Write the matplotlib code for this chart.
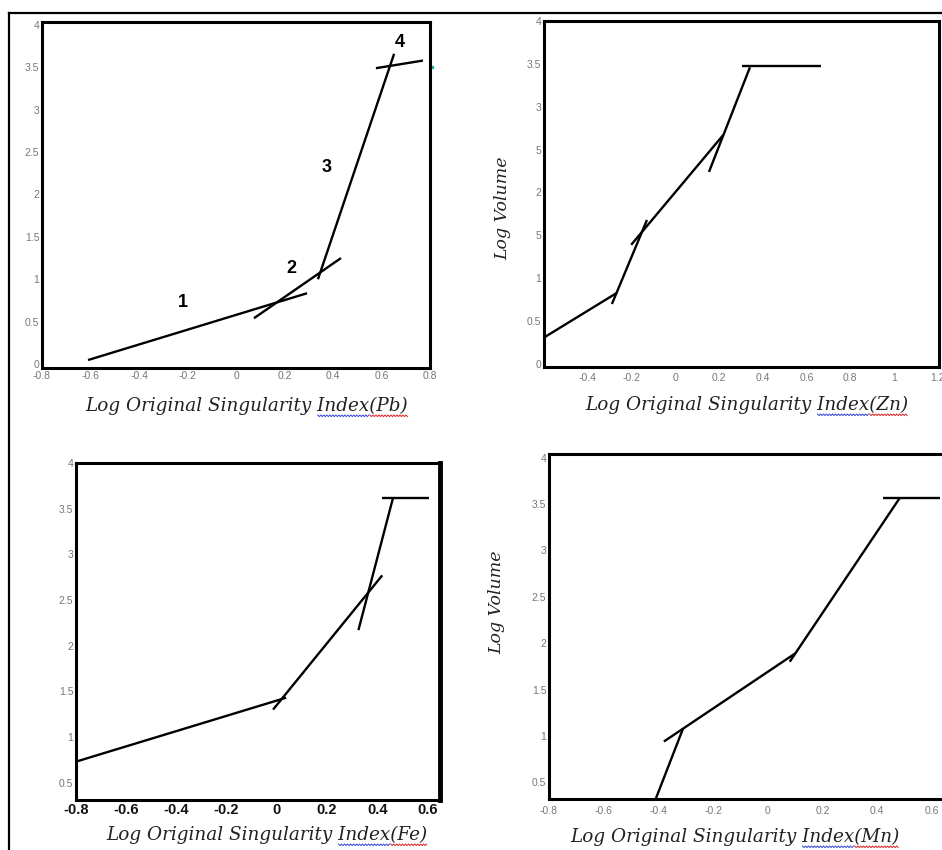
import matplotlib
matplotlib.use("Agg")
import numpy as np
import matplotlib.pyplot as plt
from matplotlib.lines import Line2D

plt.rcParams["axes.unicode_minus"] = False

W, H = 942, 850

# ---- data: each fitted segment as (x0, x1), (y0, y1) ----
pb_x = [(-0.61, 0.293), (0.074, 0.433), (0.338, 0.652), (0.577, 0.771)]
pb_y = [(0.047, 0.835), (0.54, 1.25), (1.00, 3.66), (3.49, 3.58)]
pb_labels = ["1", "2", "3", "4"]
pb_label_x = [-0.22, 0.23, 0.375, 0.676]
pb_label_y = [0.72, 1.13, 2.32, 3.79]

zn_x = [(-0.594, -0.265), (-0.288, -0.128), (-0.20, 0.22), (0.155, 0.342), (0.306, 0.667)]
zn_y = [(0.315, 0.83), (0.70, 1.68), (1.39, 2.67), (2.24, 3.46), (3.47, 3.47)]

fe_x = [(-0.80, 0.037), (-0.015, 0.42), (0.325, 0.463), (0.42, 0.606)]
fe_y = [(0.73, 1.43), (1.30, 2.77), (2.17, 3.62), (3.62, 3.62)]

mn_x = [(-0.41, -0.31), (-0.38, 0.10), (0.08, 0.483), (0.42, 0.63)]
mn_y = [(0.32, 1.08), (0.94, 1.89), (1.80, 3.57), (3.57, 3.57)]

x_ticks_pb = [-0.8, -0.6, -0.4, -0.2, 0, 0.2, 0.4, 0.6, 0.8]
x_ticks_zn = [-0.4, -0.2, 0, 0.2, 0.4, 0.6, 0.8, 1, 1.2]
x_ticks_fe = [-0.8, -0.6, -0.4, -0.2, 0, 0.2, 0.4, 0.6]
x_ticks_mn = [-0.8, -0.6, -0.4, -0.2, 0, 0.2, 0.4, 0.6]
y_ticks_full = [0, 0.5, 1, 1.5, 2, 2.5, 3, 3.5, 4]
y_labels_pb = ["0", "0.5", "1", "1.5", "2", "2.5", "3", "3.5", "4"]
y_labels_zn = ["0", "0.5", "1", "5", "2", "5", "3", "3.5", "4"]
y_ticks_low = [0.5, 1, 1.5, 2, 2.5, 3, 3.5, 4]
elements = ["Pb", "Zn", "Fe", "Mn"]


def fmt(v):
    return "%g" % v


fig = plt.figure(figsize=(W / 100, H / 100), dpi=100)
fig.patch.set_facecolor("white")

# outer frame lines (page border)
fig.add_artist(Line2D([9 / W, 1.0], [1 - 13 / H, 1 - 13 / H], color="black", lw=1.6))
fig.add_artist(Line2D([9 / W, 9 / W], [1 - 13 / H, 0], color="black", lw=1.6))


def px_axes(l, t, r, b):
    return fig.add_axes([l / W, 1 - b / H, (r - l) / W, (b - t) / H])


xlab_kw = dict(family="DejaVu Serif", style="italic", fontsize=13.2, color="#222222")
ylab_kw = dict(family="DejaVu Serif", style="italic", fontsize=12.5, color="#222222")
grey_tick = dict(family="Liberation Sans", fontsize=7.5, color="#777777")


def style(ax, xlim, ylim, xt, yt, ylabels, spine_w=2.2):
    ax.set_xlim(*xlim)
    ax.set_ylim(*ylim)
    ax.set_xticks(xt)
    ax.set_yticks(yt)
    ax.set_yticklabels(ylabels, **grey_tick)
    ax.tick_params(length=0, pad=2)
    for s in ax.spines.values():
        s.set_linewidth(spine_w)
        s.set_color("black")


def draw(ax, xs, ys):
    for (x0, x1), (y0, y1) in zip(xs, ys):
        ax.plot([x0, x1], [y0, y1], color="black", lw=1.7, solid_capstyle="butt")


renderer = fig.canvas.get_renderer()


def text_width(s):
    t = fig.text(0, 0, s, **xlab_kw)
    w = t.get_window_extent(renderer).width
    t.remove()
    return w


def squiggle(x0, x1, y, color):
    xs = np.arange(x0, x1, 1.5)
    ys = y + np.where(np.arange(len(xs)) % 2 == 0, 0.0, 1.6)
    fig.add_artist(Line2D(xs / W, 1 - ys / H, color=color, lw=0.7))


def xlabel(cx, cy, elem):
    s = "Log Original Singularity Index(%s)" % elem
    fig.text(cx / W, 1 - cy / H, s, ha="center", va="center", **xlab_kw)
    full = text_width(s)
    left = cx - full / 2
    a = left + text_width("Log Original Singularity ")
    b = left + text_width("Log Original Singularity Index")
    squiggle(a, b, cy + 9, "#3344dd")
    squiggle(b, left + full, cy + 9, "#dd2222")


# ---- Pb ----
ax1 = px_axes(42, 22, 430, 368)
style(ax1, (-0.8, 0.8), (-0.047, 4.035), x_ticks_pb, y_ticks_full, y_labels_pb)
ax1.set_xticklabels([fmt(v) for v in x_ticks_pb], **grey_tick)
draw(ax1, pb_x, pb_y)
for t, lx, ly in zip(pb_labels, pb_label_x, pb_label_y):
    ax1.text(lx, ly, t, ha="center", va="center", fontsize=13,
             fontweight="bold", family="Liberation Sans")
ax1.plot([0.808], [3.5], marker="s", ms=1.5, color="#20b0a0", clip_on=False)
xlabel(247, 406, elements[0])

# ---- Zn ----
ax2 = px_axes(544, 21, 939, 367)
style(ax2, (-0.598, 1.205), (-0.035, 4.0), x_ticks_zn, y_ticks_full, y_labels_zn)
ax2.set_xticklabels([fmt(v) for v in x_ticks_zn], **grey_tick)
ax2.tick_params(axis="x", pad=4)
draw(ax2, zn_x, zn_y)
xlabel(747, 405, elements[1])
fig.text(503 / W, 1 - 208 / H, "Log Volume", rotation=90,
         ha="center", va="center", **ylab_kw)

# ---- Fe ----
ax3 = px_axes(76, 463, 440, 800)
style(ax3, (-0.8, 0.65), (0.31, 4.0), x_ticks_fe, y_ticks_low,
      [fmt(v) for v in y_ticks_low])
ax3.set_xticklabels([fmt(v) for v in x_ticks_fe], family="Liberation Sans",
                    fontsize=10.5, fontweight="bold", color="#111111")
ax3.spines["right"].set_linewidth(3.5)
draw(ax3, fe_x, fe_y)
xlabel(267, 835, elements[2])

# ---- Mn ----
ax4 = px_axes(549, 454, 955, 799)
style(ax4, (-0.8, 0.684), (0.32, 4.04), x_ticks_mn, y_ticks_low,
      [fmt(v) for v in y_ticks_low])
ax4.set_xticklabels([fmt(v) for v in x_ticks_mn], **grey_tick)
ax4.tick_params(axis="x", pad=5)
draw(ax4, mn_x, mn_y)
xlabel(735, 837, elements[3])
fig.text(497 / W, 1 - 602 / H, "Log Volume", rotation=90,
         ha="center", va="center", **ylab_kw)

fig.savefig("out.png", dpi=100, facecolor="white")
